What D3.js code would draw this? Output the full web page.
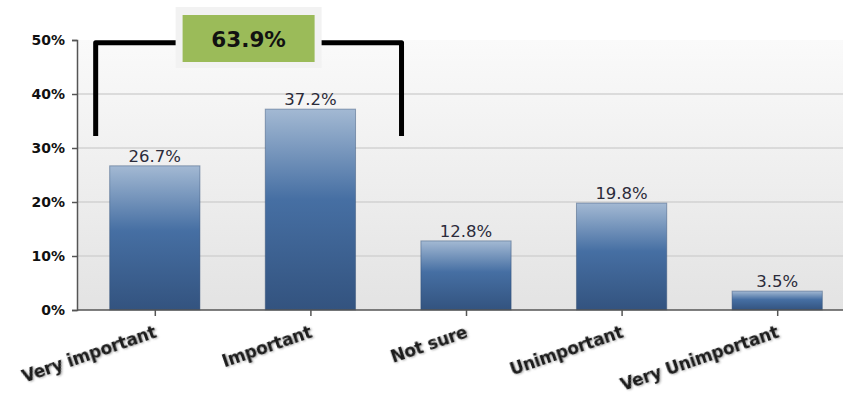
<!DOCTYPE html>
<html>
<head>
<meta charset="utf-8">
<script src="https://cdn.jsdelivr.net/npm/d3@7"></script>
<style>
  html, body { margin: 0; padding: 0; background: #fff; }
  svg { display: block; font-family: "DejaVu Sans", Verdana, sans-serif; }
</style>
</head>
<body>
<div id="chart"></div>
<script>
// ─── Data ────────────────────────────────────────────────────────────────
const categories = ['Very important', 'Important', 'Not sure', 'Unimportant', 'Very Unimportant'];
const values = [26.7, 37.2, 12.8, 19.8, 3.5];
const yTicks = [0, 10, 20, 30, 40, 50];
const bracketGroup = [0, 1];   // bars summed by the bracket callout

const W = 843, H = 394;
const margin = { top: 40, right: -12, bottom: 84, left: 77 };

const svg = d3.select('#chart').append('svg')
    .attr('width', W).attr('height', H);

const defs = svg.append('defs');

const bg = defs.append('linearGradient').attr('id', 'bgGrad')
    .attr('x1', 0).attr('y1', 0).attr('x2', 0).attr('y2', 1);
bg.append('stop').attr('offset', '0%').attr('stop-color', '#fafafa');
bg.append('stop').attr('offset', '100%').attr('stop-color', '#e3e3e3');

const barGrad = defs.append('linearGradient').attr('id', 'barGrad')
    .attr('x1', 0).attr('y1', 0).attr('x2', 0).attr('y2', 1);
barGrad.append('stop').attr('offset', '0%').attr('stop-color', '#a3b9d3');
barGrad.append('stop').attr('offset', '45%').attr('stop-color', '#466fa3');
barGrad.append('stop').attr('offset', '100%').attr('stop-color', '#33537f');

// soft shadow under the category labels
const shadow = defs.append('filter').attr('id', 'txtShadow')
    .attr('x', '-10%').attr('y', '-30%').attr('width', '120%').attr('height', '160%');
shadow.append('feDropShadow')
    .attr('dx', 1).attr('dy', 1).attr('stdDeviation', 0.8)
    .attr('flood-color', '#000').attr('flood-opacity', 0.35);

const x = d3.scaleBand()
    .domain(categories)
    .range([margin.left, W - margin.right])
    .paddingInner(0.42).paddingOuter(0.21);

const xc = d3.scalePoint()
    .domain(categories)
    .range([margin.left, W - margin.right])
    .padding(0.5);

const y = d3.scaleLinear()
    .domain([0, 50])
    .range([H - margin.bottom, margin.top]);

// plot background
svg.append('rect')
    .attr('x', margin.left).attr('y', y(50))
    .attr('width', W - margin.left).attr('height', y(0) - y(50))
    .attr('fill', 'url(#bgGrad)');

// grid lines
svg.append('g').selectAll('line')
    .data(yTicks.filter(t => t > 0 && t < 50))
    .enter().append('line')
    .attr('x1', margin.left).attr('x2', W)
    .attr('y1', d => y(d)).attr('y2', d => y(d))
    .attr('stroke', '#d2d2d2').attr('stroke-width', 1.5);

// bars
svg.append('g').selectAll('rect')
    .data(values)
    .enter().append('rect')
    .attr('x', (d, i) => x(categories[i]))
    .attr('y', d => y(d))
    .attr('width', x.bandwidth())
    .attr('height', d => y(0) - y(d))
    .attr('fill', 'url(#barGrad)')
    .attr('stroke', '#2f4b73')
    .attr('stroke-opacity', 0.45)
    .attr('stroke-width', 1);

// value labels
svg.append('g').selectAll('text')
    .data(values)
    .enter().append('text')
    .attr('x', (d, i) => x(categories[i]) + x.bandwidth() / 2)
    .attr('y', d => y(d) - 4)
    .attr('text-anchor', 'middle')
    .attr('font-size', '16.5px')
    .attr('fill', '#2b2b3a')
    .text(d => d.toFixed(1) + '%');

// y axis
const yAxis = svg.append('g')
    .attr('transform', `translate(${margin.left},0)`)
    .call(d3.axisLeft(y).tickValues(yTicks).tickFormat(d => d + '%').tickSize(5).tickPadding(7));
yAxis.select('.domain').attr('stroke', '#555').attr('stroke-width', 1.5);
yAxis.selectAll('.tick line').attr('stroke', '#555').attr('stroke-width', 1.5);
yAxis.selectAll('.tick text')
    .attr('font-size', '14px').attr('font-weight', 'bold').attr('fill', '#111')
    .attr('font-family', '"DejaVu Sans", Verdana, sans-serif');

// x axis
const xAxis = svg.append('g')
    .attr('transform', `translate(0,${y(0)})`)
    .call(d3.axisBottom(xc).tickSize(6).tickSizeOuter(0));
xAxis.select('.domain').attr('stroke', '#555').attr('stroke-width', 1.5)
    .attr('d', `M${margin.left},0H${W}`);
xAxis.selectAll('.tick line').attr('stroke', '#555').attr('stroke-width', 1.5);
xAxis.selectAll('.tick text')
    .attr('font-size', '17px').attr('font-weight', 'bold').attr('fill', '#1a1a1a')
    .attr('font-family', '"DejaVu Sans", Verdana, sans-serif')
    .attr('letter-spacing', '-0.3px')
    .attr('text-anchor', 'end')
    .attr('dy', null).attr('y', 0)
    .attr('filter', 'url(#txtShadow)')
    .attr('transform', 'translate(2,27) rotate(-19)');

// ─── Bracket callout ────────────────────────────────────────────────────
const total = d3.sum(bracketGroup, i => values[i]);
const bx0 = x(categories[bracketGroup[0]]) - 14;
const bx1 = x(categories[bracketGroup[1]]) + x.bandwidth() + 46;
const byTop = y(49.5);
const byBot = y(32.2);

svg.append('path')
    .attr('d', `M${bx0},${byBot} V${byTop} H${bx1} V${byBot}`)
    .attr('fill', 'none')
    .attr('stroke', '#000')
    .attr('stroke-width', 5)
    .attr('stroke-linejoin', 'round');

const cx = (bx0 + bx1) / 2;
svg.append('rect')
    .attr('x', cx - 73).attr('y', 7)
    .attr('width', 146).attr('height', 61)
    .attr('fill', '#f2f2f2');
svg.append('rect')
    .attr('x', cx - 66).attr('y', 15)
    .attr('width', 132).attr('height', 47)
    .attr('fill', '#9bbb59');
svg.append('text')
    .attr('x', cx).attr('y', 47)
    .attr('text-anchor', 'middle')
    .attr('font-size', '21.5px').attr('font-weight', 'bold')
    .attr('fill', '#111')
    .text(total.toFixed(1) + '%');
</script>
</body>
</html>
